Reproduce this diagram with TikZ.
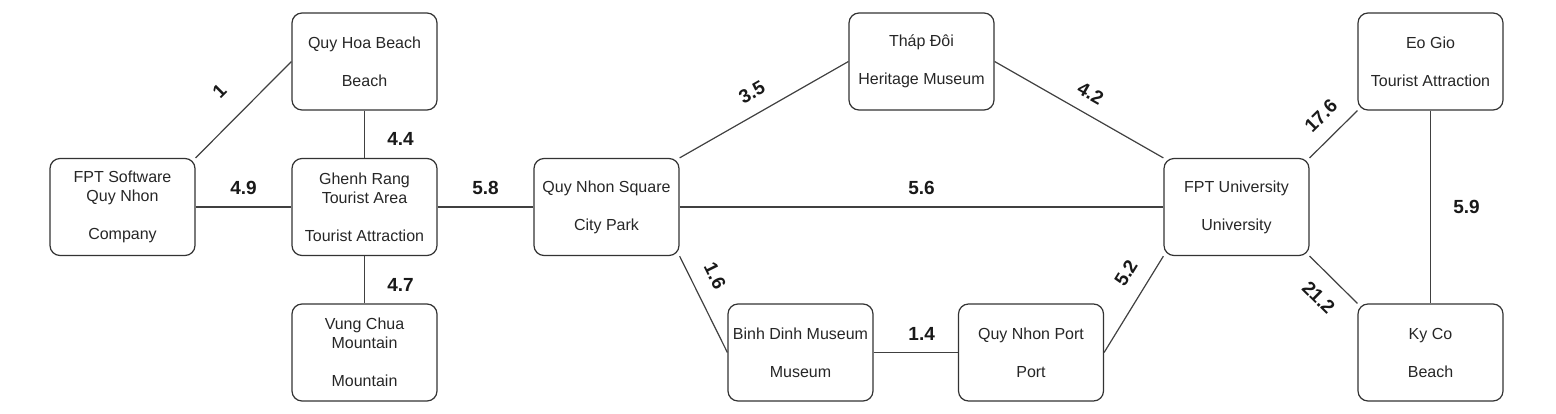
\documentclass[tikz,border=0pt]{standalone}
\usepackage{fontspec}
\setmainfont{Liberation Sans}
\begin{document}
\begin{tikzpicture}[x=1pt,y=-1pt,
  place/.style={draw=black!80, line width=1.2pt, rounded corners=10pt, minimum width=145pt, minimum height=97pt, inner sep=0pt, align=center, text=black!85, font=\fontsize{16}{19}\selectfont},
  link/.style={draw=black!75, line width=1.2pt},
  dist/.style={font=\bfseries\fontsize{19}{21}\selectfont, text=black!90, inner sep=0pt}]
\useasboundingbox (0,0) rectangle (1556,413);
\node[place] (fpts) at (122.5,207) {FPT Software\\Quy Nhon\\[19pt]Company};
\node[place] (quyhoa) at (364.5,61.5) {Quy Hoa Beach\\[19pt]Beach};
\node[place] (ghenh) at (364.5,207) {Ghenh Rang\\Tourist Area\\[19pt]Tourist Attraction};
\node[place] (vung) at (364.5,352.5) {Vung Chua\\Mountain\\[19pt]Mountain};
\node[place] (square) at (606.5,207) {Quy Nhon Square\\[19pt]City Park};
\node[place] (thap) at (921.5,61.5) {Tháp Đôi\\[19pt]Heritage Museum};
\node[place] (binh) at (800.5,352.5) {Binh Dinh Museum\\[19pt]Museum};
\node[place] (port) at (1031,352.5) {Quy Nhon Port\\[19pt]Port};
\node[place] (fptu) at (1236.5,207) {FPT University\\[19pt]University};
\node[place] (eogio) at (1430.5,61.5) {Eo Gio\\[19pt]Tourist Attraction};
\node[place] (kyco) at (1430.5,352.5) {Ky Co\\[19pt]Beach};

\draw[link] (fpts.north east) -- node[dist, sloped, pos=0.47, yshift=30pt] {1} (quyhoa.west);
\draw[link] (quyhoa.south) -- node[dist, pos=0.6, xshift=36pt] {4.4} (ghenh.north);
\draw[link] (fpts.east) -- node[dist, pos=0.5, yshift=19pt] {4.9} (ghenh.west);
\draw[link] (ghenh.south) -- node[dist, pos=0.6, xshift=36pt] {4.7} (vung.north);
\draw[link] (ghenh.east) -- node[dist, pos=0.5, yshift=19pt] {5.8} (square.west);
\draw[link] (square.north east) -- node[dist, sloped, pos=0.49, yshift=21pt] {3.5} (thap.west);
\draw[link] (square.east) -- node[dist, pos=0.5, yshift=19pt] {5.6} (fptu.west);
\draw[link] (square.south east) -- node[dist, sloped, pos=0.31, yshift=23pt] {1.6} (binh.west);
\draw[link] (binh.east) -- node[dist, pos=0.57, yshift=19pt] {1.4} (port.west);
\draw[link] (thap.east) -- node[dist, sloped, pos=0.51, yshift=20pt] {4.2} (fptu.north west);
\draw[link] (port.east) -- node[dist, sloped, pos=0.7, yshift=23pt] {5.2} (fptu.south west);
\draw[link] (fptu.north east) -- node[dist, sloped, pos=0.56, yshift=22pt] {17.6} (eogio.south west);
\draw[link] (fptu.south east) -- node[dist, sloped, pos=0.53, yshift=-23pt] {21.2} (kyco.north west);
\draw[link] (eogio.south) -- node[dist, pos=0.5, xshift=36pt] {5.9} (kyco.north);
\end{tikzpicture}
\end{document}
